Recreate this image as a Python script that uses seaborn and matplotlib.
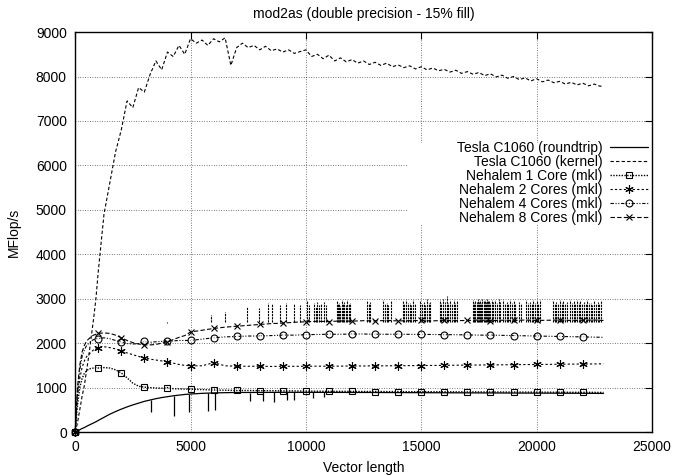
import matplotlib
matplotlib.use("Agg")
import matplotlib.pyplot as plt
import seaborn as sns
from matplotlib.patches import Rectangle

# --- data ---
x_nh = list(range(0, 1001, 100)) + list(range(1250, 5001, 250)) + list(range(5500, 22501, 500)) + [22900]

roundtrip = [0, 25, 50, 80, 100, 130, 155, 180, 205, 230, 260,
             330, 400, 460, 515, 565, 610, 650, 690, 720, 750, 775, 795, 815, 830, 845, 855,
             870, 880, 885, 890, 890, 890, 892, 893, 893, 893, 892, 892, 891, 890, 890, 889,
             888, 887, 886, 885, 884, 883, 882, 881, 880, 879, 878, 877, 876, 875, 874, 873,
             872, 871, 870, 868]
core1 = [0, 600, 1000, 1200, 1320, 1380, 1420, 1430, 1440, 1450, 1440,
         1450, 1440, 1400, 1330, 1220, 1100, 1030, 1010, 1000, 990, 985, 1000, 975, 970, 965, 965,
         955, 945, 940, 935, 935, 930, 930, 925, 925, 920, 918, 916, 915, 914, 912, 911,
         910, 909, 908, 907, 906, 905, 904, 903, 902, 901, 900, 899, 898, 897, 896, 895,
         894, 893, 892, 890]
core2 = [0, 800, 1200, 1450, 1600, 1700, 1750, 1800, 1850, 1880, 1900,
         1920, 1900, 1870, 1820, 1780, 1740, 1700, 1670, 1640, 1620, 1600, 1580, 1550, 1520, 1500, 1490,
         1490, 1560, 1490, 1480, 1480, 1480, 1475, 1480, 1478, 1480, 1482, 1480, 1483, 1485, 1486, 1488,
         1490, 1492, 1494, 1496, 1498, 1500, 1503, 1506, 1508, 1510, 1512, 1515, 1518, 1520,
         1522, 1525, 1528, 1530, 1532, 1535]
core4 = [0, 900, 1400, 1700, 1850, 1950, 2000, 2050, 2080, 2100, 2100,
         2120, 2100, 2060, 2020, 1990, 1980, 1990, 2040, 2020, 2030, 2040, 2040, 2050, 2060, 2060, 2060,
         2090, 2120, 2140, 2150, 2160, 2160, 2170, 2180, 2180, 2190, 2195, 2200, 2200, 2205, 2205,
         2200, 2200, 2200, 2198, 2195, 2195, 2190, 2190, 2185, 2180, 2180, 2175, 2170, 2165, 2160,
         2155, 2150, 2145, 2140, 2135, 2130]
core8 = [0, 1000, 1500, 1800, 1950, 2050, 2100, 2150, 2180, 2200, 2220,
         2230, 2220, 2180, 2120, 2060, 2010, 1980, 1960, 1960, 1970, 2000, 2030, 2080, 2130, 2170, 2250,
         2290, 2330, 2360, 2380, 2400, 2420, 2440, 2450, 2470, 2480, 2490, 2485, 2500, 2495, 2505,
         2500, 2510, 2500, 2505, 2510, 2500, 2515, 2505, 2510, 2520, 2505, 2515, 2510, 2520, 2510,
         2515, 2520, 2510, 2515, 2520, 2510]

x_kernel = list(range(0, 1001, 100)) + list(range(1250, 22751, 250)) + [22900]
kernel = [0, 200, 500, 800, 1050, 1400, 1750, 2150, 2550, 3000, 3600,
          4900, 5600, 6300, 6800, 7450, 7300, 7750, 7650, 8050, 8350, 8150, 8550, 8450, 8700, 8500, 8850,
          8750, 8820, 8700, 8850, 8780, 8870, 8250, 8650, 8750, 8650, 8700, 8600, 8680, 8580, 8620,
          8550, 8600, 8520, 8560, 8600,
          8450, 8500, 8400, 8480, 8350, 8420, 8330, 8380, 8300, 8350, 8270, 8320, 8250, 8300, 8220,
          8260, 8200, 8240, 8170, 8220,
          8150, 8190, 8130, 8160, 8100, 8140, 8070, 8110, 8050, 8090, 8020, 8060, 7990, 8030, 7960,
          8000, 7930, 7970, 7900, 7950,
          7880, 7920, 7860, 7890, 7830, 7870, 7810, 7850, 7790, 7830, 7780,
          7800]

# downward glitches of the roundtrip curve
rt_spike_x = [3300, 4300, 4950, 5750, 6050, 7600, 8150, 8600, 9200, 9500, 10300, 10800]
rt_spike_lo = [450, 350, 450, 480, 500, 700, 700, 680, 720, 720, 760, 780]
rt_spike_hi = [720, 810, 855, 875, 880, 885, 885, 890, 890, 890, 890, 890]

# upward glitches of the 8 core curve
c8_spike_base = 2480
c8_spike_x = [4000, 5900, 6500, 7450, 7950, 8350, 8550, 8900, 9150, 9500, 9750,
              10050, 10120, 10350, 10420, 10500, 10580, 10650, 10800, 10870,
              11350, 11400, 11450, 11500, 11550, 11600, 11650, 11720, 11800, 11850, 11900,
              12650, 12720, 12800,
              13350, 13420, 13500, 13580, 13700,
              14200, 14270, 14350, 14420, 14500, 14570, 14650, 14720,
              14950, 15020, 15100, 15170, 15250, 15320, 15400,
              15800, 15870, 15950, 16020, 16100, 16170, 16250, 16320, 16400, 16470, 16550,
              17250, 17300, 17350, 17400, 17450, 17500, 17550, 17600, 17650, 17700, 17750,
              17800, 17850, 17900, 17950, 18000, 18050, 18120, 18200, 18280, 18350, 18420,
              18550, 18620, 18700, 18780, 18850, 18920, 19000, 19080, 19250, 19320,
              19550, 19620, 19700, 19780, 19850, 19920, 20000, 20080, 20150,
              20700, 20780, 20850, 20920, 21000, 21080, 21150, 21220, 21300,
              21450, 21520, 21600, 21680, 21750, 21820, 21900, 21970, 22050, 22120,
              22200, 22270, 22350, 22420, 22500, 22570, 22650, 22720, 22800]
c8_spike_top = [2450, 2630, 2700, 2820, 2800, 2900, 2880, 2850, 2900, 2880, 2860,
                2950, 2850, 2900, 2820, 2920, 2860, 2880, 2930, 2860,
                2950, 2870, 2900, 2840, 2960, 2880, 2920, 2850, 2970, 2880, 2900,
                2950, 2870, 2930,
                2960, 2880, 2900, 2850, 2950,
                2940, 2870, 2980, 2900, 2900, 2860, 2960, 2880,
                2950, 2880, 2920, 2850, 2990, 2900, 2930,
                2960, 2900, 2990, 2920, 3050, 2900, 2950, 2880, 2980, 2900, 2940,
                2980, 2900, 2950, 2920, 3000, 2930, 2970, 2910, 2990, 2940, 2960,
                2920, 3000, 2940, 2950, 2910, 2980, 2930, 2960, 2900, 2990, 2920,
                2960, 2880, 2930, 2890, 2970, 2900, 2950, 2880, 2920, 2870,
                2960, 2900, 2930, 2880, 2970, 2900, 2940, 2890, 2960,
                2950, 2880, 2920, 2870, 2980, 2900, 2950, 2890, 2930,
                2960, 2900, 2940, 2880, 2970, 2910, 2950, 2890, 2930, 2880,
                2960, 2900, 2900, 2860, 2950, 2890, 2920, 2870, 2950]

labels = ["Tesla C1060 (roundtrip)", "Tesla C1060 (kernel)", "Nehalem 1 Core (mkl)",
          "Nehalem 2 Cores (mkl)", "Nehalem 4 Cores (mkl)", "Nehalem 8 Cores (mkl)"]

# --- style ---
sns.set_style("white")
plt.rcParams["font.family"] = ["Liberation Sans", "DejaVu Sans"]
plt.rcParams["font.size"] = 10
plt.rcParams["text.color"] = "k"
plt.rcParams["axes.labelcolor"] = "k"
plt.rcParams["xtick.color"] = "k"
plt.rcParams["ytick.color"] = "k"

fig = plt.figure(figsize=(6.77, 4.75), dpi=100)
ax = fig.add_axes([0.111, 0.0905, 0.852, 0.842])

marks = [i for i, v in enumerate(x_nh) if v % 1000 == 0 and v <= 22000]

sns.lineplot(x=x_nh, y=roundtrip, ax=ax, color="k", lw=0.9, linestyle="-", label=labels[0],
             clip_on=False)
sns.lineplot(x=x_kernel, y=kernel, ax=ax, color="k", lw=0.8, linestyle=(0, (3, 2)), label=labels[1],
             clip_on=False)
sns.lineplot(x=x_nh, y=core1, ax=ax, color="k", lw=1.0, linestyle=(0, (1, 1)),
             marker="s", markersize=5, mfc="none", mec="k", mew=0.8, markevery=marks, label=labels[2],
             clip_on=False)
sns.lineplot(x=x_nh, y=core2, ax=ax, color="k", lw=0.8, linestyle=(0, (2, 2)),
             marker=(6, 2, 0), markersize=6, mec="k", mew=0.8, markevery=marks, label=labels[3],
             clip_on=False)
sns.lineplot(x=x_nh, y=core4, ax=ax, color="k", lw=0.8, linestyle=(0, (3, 1.5, 1, 1.5, 1, 1.5)),
             marker="o", markersize=5, mfc="none", mec="k", mew=0.8, markevery=marks, label=labels[4],
             clip_on=False)
sns.lineplot(x=x_nh, y=core4, ax=ax, color="k", linestyle="none",
             marker=".", markersize=2, markevery=marks)
sns.lineplot(x=x_nh, y=core8, ax=ax, color="k", lw=0.8, linestyle=(0, (4, 2)),
             marker="x", markersize=5, mec="k", mew=0.8, markevery=marks, label=labels[5],
             clip_on=False)

ax.vlines(rt_spike_x, rt_spike_lo, rt_spike_hi, colors="k", lw=0.9)
ax.vlines(c8_spike_x, c8_spike_base, c8_spike_top, colors="k", lw=0.8, linestyles=(0, (2, 0.8)))

ax.set_xlim(0, 25000)
ax.set_ylim(0, 9000)
ax.set_xticks(range(0, 25001, 5000))
ax.set_yticks(range(0, 9001, 1000))
ax.grid(True, color="k", lw=0.5, linestyle=(0, (1, 2.5)))
ax.set_axisbelow(True)
ax.tick_params(direction="in", top=True, right=True, length=5, width=0.8, pad=6, labelsize=10,
               colors="k")
for s in ax.spines.values():
    s.set_color("k")
    s.set_linewidth(1.0)

ax.set_title("mod2as (double precision - 15% fill)", fontsize=10, pad=10, color="k")
ax.set_xlabel("Vector length", fontsize=10, labelpad=5)
ax.set_ylabel("MFlop/s", fontsize=10, labelpad=11)

# blank area behind the key, like gnuplot does
ax.add_patch(Rectangle((0.575, 0.5175), 0.425, 0.205, transform=ax.transAxes,
                       facecolor="white", edgecolor="none", zorder=1.5))

ax.legend(loc="upper right", bbox_to_anchor=(0.993, 0.727), frameon=False, markerfirst=False,
          handlelength=2.7, handletextpad=0.55, labelspacing=0.0, borderaxespad=0,
          borderpad=0, fontsize=10, labelcolor="k")

fig.savefig("out.png", dpi=100)
